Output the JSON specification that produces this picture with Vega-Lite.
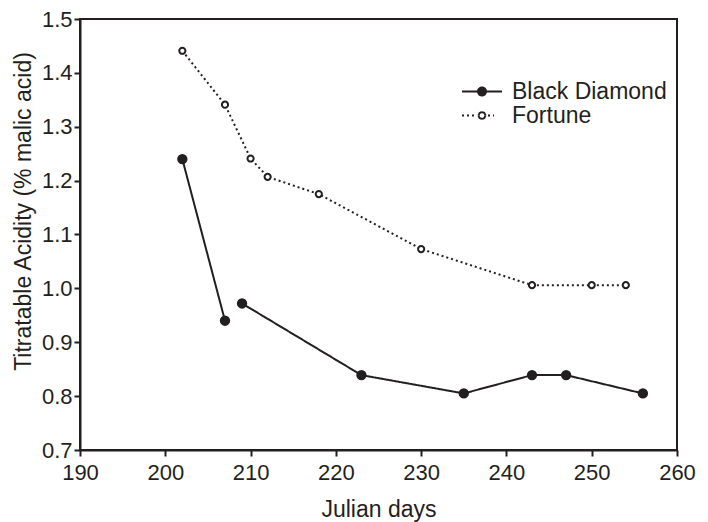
{
  "$schema": "https://vega.github.io/schema/vega-lite/v6.json",
  "width": 597,
  "height": 431,
  "autosize": {"type": "none"},
  "padding": {"left": 80, "top": 19, "right": 31, "bottom": 72},
  "background": "white",
  "config": {
    "font": "Liberation Sans",
    "view": {"stroke": "#231f20", "strokeWidth": 2},
    "axis": {
      "grid": false,
      "domainColor": "#231f20",
      "domainWidth": 2,
      "tickColor": "#231f20",
      "tickWidth": 2,
      "tickSize": 6,
      "labelFontSize": 22,
      "labelColor": "#231f20",
      "labelFont": "Liberation Sans",
      "labelFlush": false,
      "labelOverlap": false,
      "titleFont": "Liberation Sans",
      "titleFontSize": 23,
      "titleFontWeight": "normal",
      "titleColor": "#231f20"
    },
    "legend": {
      "labelFont": "Liberation Sans",
      "labelFontSize": 23,
      "labelColor": "#231f20"
    }
  },
  "data": {
    "values": [
      {"day": 202, "acid": 1.240, "series": "Black Diamond", "seg": "a"},
      {"day": 207, "acid": 0.940, "series": "Black Diamond", "seg": "a"},
      {"day": 209, "acid": 0.972, "series": "Black Diamond", "seg": "b"},
      {"day": 223, "acid": 0.839, "series": "Black Diamond", "seg": "b"},
      {"day": 235, "acid": 0.805, "series": "Black Diamond", "seg": "b"},
      {"day": 243, "acid": 0.839, "series": "Black Diamond", "seg": "b"},
      {"day": 247, "acid": 0.839, "series": "Black Diamond", "seg": "b"},
      {"day": 256, "acid": 0.805, "series": "Black Diamond", "seg": "b"},
      {"day": 202, "acid": 1.441, "series": "Fortune", "seg": "c"},
      {"day": 207, "acid": 1.341, "series": "Fortune", "seg": "c"},
      {"day": 210, "acid": 1.241, "series": "Fortune", "seg": "c"},
      {"day": 212, "acid": 1.207, "series": "Fortune", "seg": "c"},
      {"day": 218, "acid": 1.175, "series": "Fortune", "seg": "c"},
      {"day": 230, "acid": 1.073, "series": "Fortune", "seg": "c"},
      {"day": 243, "acid": 1.006, "series": "Fortune", "seg": "c"},
      {"day": 250, "acid": 1.006, "series": "Fortune", "seg": "c"},
      {"day": 254, "acid": 1.006, "series": "Fortune", "seg": "c"}
    ]
  },
  "encoding": {
    "x": {
      "field": "day",
      "type": "quantitative",
      "scale": {"domain": [190, 260], "nice": false, "zero": false},
      "axis": {"values": [190, 200, 210, 220, 230, 240, 250, 260], "title": "Julian days", "labelPadding": 6, "titlePadding": 15}
    },
    "y": {
      "field": "acid",
      "type": "quantitative",
      "scale": {"domain": [0.7, 1.5], "nice": false, "zero": false},
      "axis": {"values": [0.7, 0.8, 0.9, 1.0, 1.1, 1.2, 1.3, 1.4, 1.5], "format": ".1f", "title": "Titratable Acidity (% malic acid)", "labelPadding": 2, "titlePadding": 6, "titleY": 192}
    }
  },
  "layer": [
    {
      "mark": {"type": "line", "color": "#231f20", "strokeWidth": 2},
      "encoding": {
        "detail": {"field": "seg"},
        "strokeDash": {
          "field": "series",
          "type": "nominal",
          "scale": {"domain": ["Black Diamond", "Fortune"], "range": [[1, 0], [2, 3]]},
          "legend": {
            "title": null,
            "orient": "none",
            "legendX": 381,
            "legendY": 62,
            "symbolSize": 1600,
            "symbolStrokeWidth": 2,
            "labelOffset": 9,
            "rowPadding": 0,
            "clipHeight": 21,
            "symbolType": {"expr": "datum.value === 'Fortune' ? 'M-1,0H-0.3 M0.3,0H0.6 M0.17,0L0.1472,0.085 M0.1472,0.085L0.085,0.1472 M0.085,0.1472L0,0.17 M0,0.17L-0.085,0.1472 M-0.085,0.1472L-0.1472,0.085 M-0.1472,0.085L-0.17,0 M-0.17,0L-0.1472,-0.085 M-0.1472,-0.085L-0.085,-0.1472 M-0.085,-0.1472L0,-0.17 M0,-0.17L0.085,-0.1472 M0.085,-0.1472L0.1472,-0.085 M0.1472,-0.085L0.17,0' : 'M-1,0H1 M0.2,0A0.2,0.2 0 1,1 -0.2,0A0.2,0.2 0 1,1 0.2,0 M0.1,0A0.1,0.1 0 1,1 -0.1,0A0.1,0.1 0 1,1 0.1,0 M-0.05,0H0.05'"}
          }
        }
      }
    },
    {
      "transform": [{"filter": "datum.series === 'Black Diamond'"}],
      "mark": {"type": "point", "shape": "circle", "stroke": "#231f20", "fill": "#231f20", "filled": true, "strokeWidth": 2, "opacity": 1, "size": 70}
    },
    {
      "transform": [{"filter": "datum.series === 'Fortune'"}],
      "mark": {"type": "point", "shape": "circle", "stroke": "#231f20", "fill": "white", "filled": true, "strokeWidth": 2, "opacity": 1, "size": 38}
    }
  ]
}
